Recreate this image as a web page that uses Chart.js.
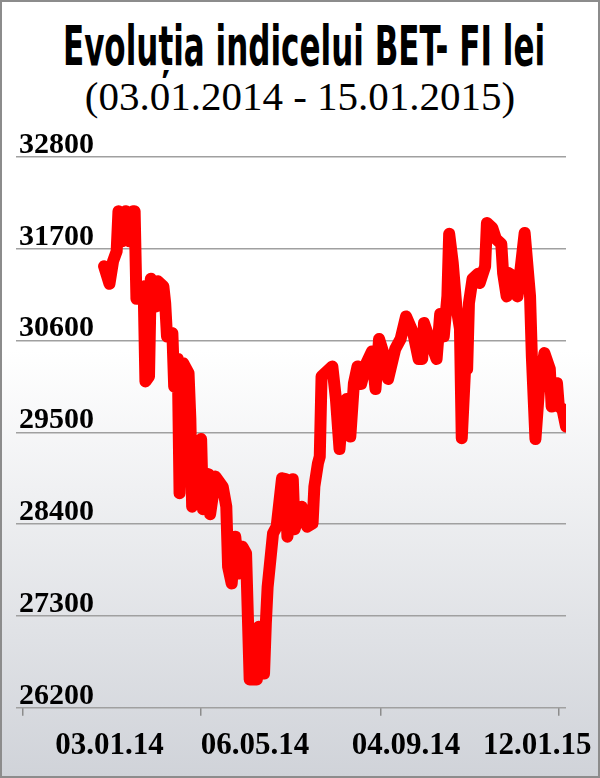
<!DOCTYPE html>
<html>
<head>
<meta charset="utf-8">
<script src="https://cdn.jsdelivr.net/npm/chart.js@4.4.1/dist/chart.umd.min.js"></script>
<style>
  html, body { margin: 0; padding: 0; }
  #wrap {
    position: relative; width: 600px; height: 778px; box-sizing: border-box;
    border: 2px solid #8c8c8c; overflow: hidden;
    background: linear-gradient(to bottom, #ffffff 0%, #ffffff 45%, #d0d3d9 100%);
  }
  #title {
    position: absolute; left: 302px; top: 16px; white-space: nowrap;
    font-family: 'Liberation Sans Narrow', 'DejaVu Sans Condensed', sans-serif;
    font-weight: bold; font-size: 50px; line-height: 56px; color: #000;
    transform-origin: center center;
  }
  #subtitle {
    position: absolute; left: 0; top: 70px; width: 596px; text-align: center; white-space: nowrap;
    font-family: 'Liberation Serif', serif; font-size: 41px; line-height: 48px; color: #000;
  }
  canvas { position: absolute; left: -2px; top: -2px; }
</style>
</head>
<body>
<div id="wrap">
  <div id="title">Evoluția indicelui BET- FI lei</div>
  <div id="subtitle">(03.01.2014 - 15.01.2015)</div>
  <canvas id="chart" width="600" height="778"></canvas>
</div>
<script>
// sedinta de tranzactionare (0 = 03.01.2014) si valoarea indicelui BET-FI
const sessions = [0, 3, 5, 7, 8, 10, 12, 14, 16, 17,
  18, 19, 22, 23, 25, 26, 29, 30, 33, 34,
  35, 38, 39, 41, 42, 44, 47, 48, 49, 52,
  54, 55, 58, 59, 62, 66, 68, 69, 71, 73,
  75, 77, 79, 81, 85, 86, 89, 90, 91, 94,
  96, 99, 101, 102, 105, 106, 110, 113, 116, 117,
  119, 120, 121, 124, 127, 129, 131, 133, 135, 137,
  139, 141, 143, 146, 149, 151, 153, 156, 158, 162,
  165, 168, 172, 175, 177, 178, 181, 185, 187, 189,
  191, 192, 194, 196, 198, 199, 201, 202, 203, 205,
  208, 209, 212, 213, 216, 218, 221, 222, 224, 225,
  228, 230, 234, 237, 238, 240, 242, 245, 248, 249,
  252, 253, 255, 257];

const betFi = [31490, 31280, 31550, 31670, 32150, 31790, 32150, 31790, 32150, 32150,
  31100, 31170, 31250, 30110, 30170, 31340, 31010, 31310, 31250, 31050,
  30650, 30690, 30050, 30380, 28770, 30330, 30210, 29660, 28610, 29370,
  29420, 28580, 29000, 28520, 28970, 28850, 28610, 27890, 27690, 28250,
  27810, 28130, 28050, 26540, 26540, 27170, 26610, 27210, 27650, 28290,
  28370, 28950, 28940, 28250, 28940, 28340, 28610, 28370, 28410, 28850,
  29130, 29210, 30170, 30230, 30290, 29900, 29300, 29850, 29900, 29450,
  30090, 30290, 30080, 30330, 30470, 30020, 30620, 30410, 30140, 30500,
  30620, 30890, 30690, 30380, 30380, 30810, 30620, 30380, 30920, 30650,
  31130, 31880, 31530, 31010, 30740, 29430, 30330, 30260, 31050, 31340,
  31400, 31290, 31490, 32010, 31950, 31820, 31760, 31410, 31130, 31410,
  31370, 31130, 31890, 31130, 30410, 29420, 30020, 30450, 30260, 29810,
  30090, 29810, 29780, 29570];

// axa X: liniute si etichete de data
const tickSessions = [-45, 54, 154, 253];
const labelSessions = [3, 84, 168, 241];
const dateLabels = ['03.01.14', '06.05.14', '04.09.14', '12.01.15'];

// axa Y
const yMin = 26200;
const yMax = 32800;
const yStep = 1100;

// titlul ingust (tip Impact) - il comprimam pe orizontala
const title = document.getElementById('title');
const titleScale = 482 / title.offsetWidth;
title.style.transform = 'translateX(-50%) scale(' + titleScale + ', 1.1)';

const points = sessions.map((s, i) => ({ x: s, y: betFi[i] }));
const serif = 'Liberation Serif, Times New Roman, serif';

const ctx = document.getElementById('chart').getContext('2d');
new Chart(ctx, {
  type: 'line',
  data: {
    datasets: [{
      data: points,
      borderColor: '#ff0000',
      borderWidth: 12,
      borderJoinStyle: 'round',
      borderCapStyle: 'round',
      pointRadius: 0,
      tension: 0,
      fill: false,
      xAxisID: 'x',
      yAxisID: 'y'
    }]
  },
  options: {
    responsive: false,
    animation: false,
    devicePixelRatio: 1,
    layout: {
      padding: { top: 157, left: 10, right: 34, bottom: 9 }
    },
    plugins: {
      legend: { display: false },
      tooltip: { enabled: false }
    },
    scales: {
      x: {
        type: 'linear',
        position: 'bottom',
        min: -49,
        max: 257,
        afterBuildTicks: scale => {
          scale.ticks = tickSessions.map(v => ({ value: v }));
        },
        ticks: { display: false },
        grid: { drawOnChartArea: false, color: '#8c8c8c', lineWidth: 1.5, tickLength: 8 },
        border: { display: false }
      },
      xDates: {
        type: 'linear',
        position: 'bottom',
        min: -49,
        max: 257,
        afterBuildTicks: scale => {
          scale.ticks = labelSessions.map(v => ({ value: v }));
        },
        ticks: {
          callback: (v, i) => dateLabels[i],
          autoSkip: false,
          maxRotation: 0,
          padding: 4,
          color: '#000',
          font: { family: serif, weight: 'bold', size: 31 }
        },
        grid: { display: false },
        border: { display: false }
      },
      y: {
        min: yMin,
        max: yMax,
        ticks: {
          stepSize: yStep,
          mirror: true,
          labelOffset: -12,
          padding: 3,
          color: '#000',
          font: { family: serif, weight: 'bold', size: 30 },
          callback: v => String(v)
        },
        grid: { color: '#a0a0a0', lineWidth: 1.5, drawTicks: false },
        border: { display: false }
      }
    }
  }
});
</script>
</body>
</html>
